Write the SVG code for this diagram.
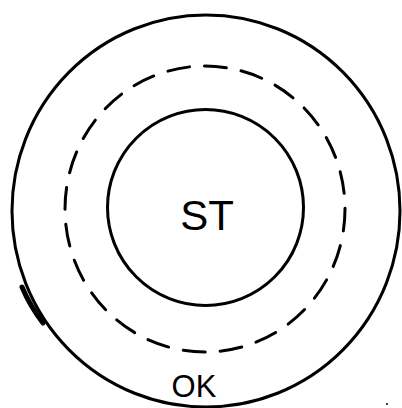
<svg xmlns="http://www.w3.org/2000/svg" width="402" height="408" viewBox="0 0 402 408">
<style>
.ring{fill:none;stroke:#000;stroke-width:3}
.dash{fill:none;stroke:#000;stroke-width:3;stroke-dasharray:22 15;stroke-linecap:round}
.lbl{font-family:"Liberation Sans",Arial,sans-serif;fill:#000;text-anchor:middle}
</style>
<rect width="402" height="408" fill="#fff"/>
<g id="outer">
<ellipse class="ring" cx="206" cy="211" rx="194" ry="196"/>
<path d="M22,287 Q30,306 43,323" fill="none" stroke="#000" stroke-width="5" stroke-linecap="round"/>
<text class="lbl" x="194" y="397" font-size="31">OK</text>
</g>
<g id="middle">
<ellipse class="dash" cx="205" cy="209" rx="140" ry="143"/>
</g>
<g id="inner">
<circle class="ring" cx="205.5" cy="207.5" r="98"/>
<text class="lbl" x="207" y="230" font-size="42">ST</text>
</g>
<circle cx="387" cy="404" r="1" fill="#000"/>
</svg>
